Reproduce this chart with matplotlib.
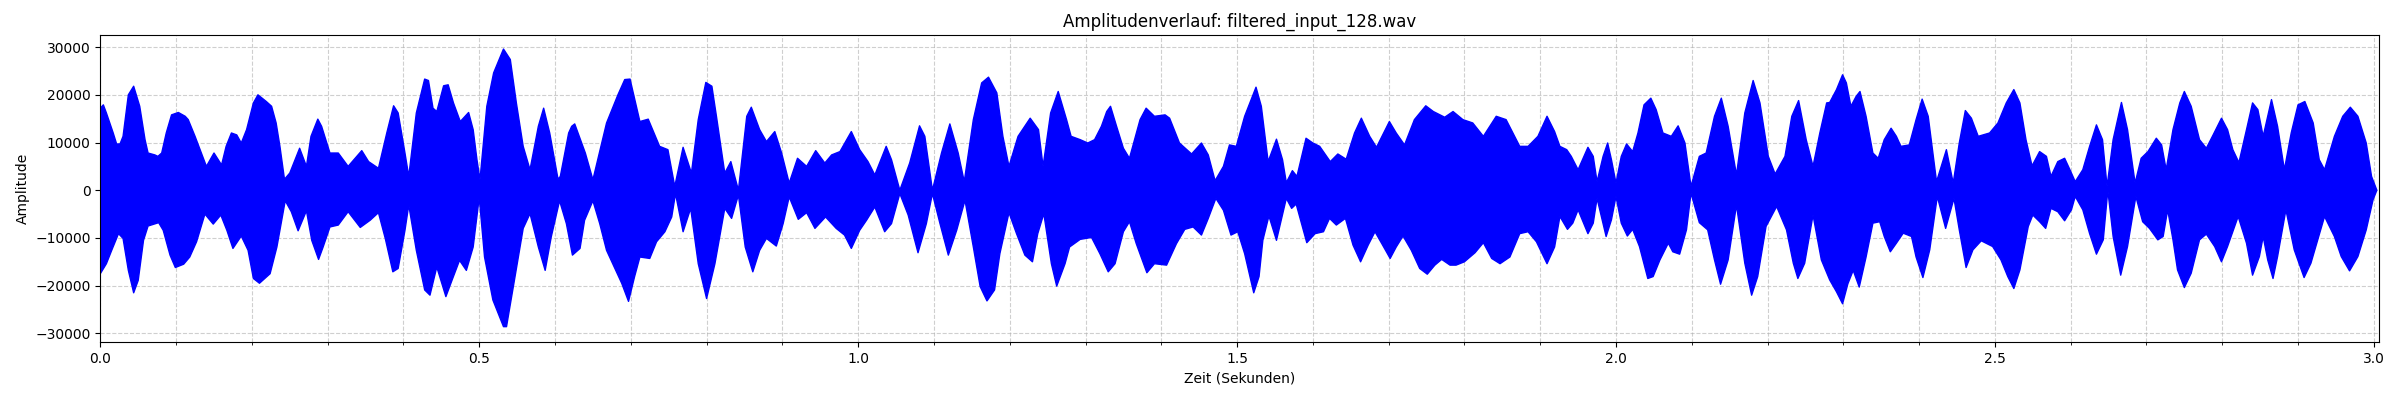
import matplotlib
matplotlib.use("Agg")
import matplotlib.pyplot as plt
from matplotlib.ticker import MultipleLocator
import numpy as np

dateiname = "filtered_input_128.wav"
dauer = 3.007

# obere Huellkurve (Zeit in s, Amplitude)
t_oben = [0.0, 0.004, 0.008, 0.017, 0.0215, 0.026, 0.030, 0.037, 0.044, 0.052, 0.059, 0.063, 0.072, 0.076, 0.081, 0.087, 0.094, 0.103, 0.112, 0.116, 0.125, 0.140, 0.150, 0.160, 0.166, 0.173, 0.180, 0.186, 0.193, 0.202, 0.208, 0.219, 0.226, 0.232, 0.237, 0.243, 0.250, 0.263, 0.272, 0.278, 0.287,
          0.292, 0.303, 0.314, 0.327, 0.345, 0.354, 0.367, 0.378, 0.387, 0.393, 0.402, 0.407, 0.417, 0.428, 0.433, 0.439, 0.444, 0.453, 0.459, 0.466, 0.475, 0.486, 0.492, 0.497, 0.501, 0.510, 0.519, 0.532, 0.541, 0.549, 0.558, 0.567, 0.578, 0.585, 0.593, 0.604,
          0.607, 0.618, 0.622, 0.626, 0.640, 0.650, 0.668, 0.683, 0.692, 0.699, 0.712, 0.723, 0.738, 0.749, 0.758, 0.769, 0.780, 0.789, 0.799, 0.807, 0.813, 0.824, 0.832, 0.842, 0.853, 0.859, 0.870, 0.879, 0.890, 0.899, 0.909, 0.920, 0.932,
          0.944, 0.956, 0.965, 0.976, 0.991, 1.002, 1.013, 1.022, 1.037, 1.044, 1.055, 1.068, 1.081, 1.088, 1.098, 1.110, 1.121, 1.132, 1.140, 1.152, 1.163, 1.172, 1.183, 1.191, 1.199, 1.211, 1.227, 1.238, 1.244, 1.254, 1.264,
          1.275, 1.281, 1.293, 1.303, 1.312, 1.321, 1.328, 1.333, 1.341, 1.350, 1.358, 1.372, 1.380, 1.391, 1.405, 1.411, 1.424, 1.440, 1.453, 1.462, 1.471, 1.482, 1.490, 1.499, 1.510, 1.525, 1.532, 1.541, 1.552, 1.560, 1.565, 1.573, 1.579, 1.591, 1.600, 1.609,
          1.623, 1.633, 1.644, 1.655, 1.664, 1.675, 1.684, 1.701, 1.710, 1.721, 1.734, 1.749, 1.759, 1.774, 1.785, 1.798, 1.811, 1.825, 1.842, 1.855, 1.873, 1.884, 1.897, 1.909, 1.919, 1.926,
          1.935, 1.941, 1.950, 1.963, 1.970, 1.975, 1.983, 1.989, 1.994, 2.000, 2.007, 2.014, 2.022, 2.029, 2.037, 2.046, 2.053, 2.062, 2.073, 2.082, 2.091, 2.099, 2.110, 2.119, 2.130, 2.139, 2.148, 2.159, 2.170, 2.181, 2.190, 2.201, 2.210, 2.223, 2.232, 2.241, 2.251, 2.260, 2.269, 2.278,
          2.282, 2.291, 2.299, 2.304, 2.310, 2.317, 2.322, 2.330, 2.339, 2.346, 2.354, 2.363, 2.370, 2.376, 2.387, 2.396, 2.404, 2.412, 2.423, 2.436, 2.445, 2.453, 2.461, 2.469, 2.478, 2.493, 2.504, 2.515, 2.525, 2.533, 2.541, 2.549, 2.559, 2.568, 2.574, 2.583, 2.592, 2.599, 2.606, 2.616, 2.625, 2.634, 2.642, 2.648,
          2.656, 2.667, 2.675, 2.685, 2.693, 2.702, 2.713, 2.720, 2.726, 2.735, 2.744, 2.750, 2.759, 2.770, 2.779, 2.788, 2.799, 2.807, 2.814, 2.822, 2.832, 2.840, 2.847, 2.854, 2.859, 2.865, 2.873, 2.882, 2.891, 2.900, 2.909, 2.920, 2.928, 2.935, 2.948, 2.959, 2.969, 2.979, 2.990, 2.997, 3.004]
a_oben = [17200, 17900, 16200, 12000, 9700, 9700, 11300, 20000, 21800, 17600, 10600, 7800, 7400, 7100, 7800, 12000, 15800, 16300, 15500, 14800, 11300, 5000, 7800, 5300, 9200, 12000, 11600, 9900, 12700, 18300, 20000, 18600, 17600, 14100, 9200, 2300, 3600, 8800, 5000, 11300, 14900,
          13400, 7800, 7800, 5000, 8300, 6000, 4600, 12000, 17700, 16200, 7800, 2900, 16200, 23300, 23000, 17200, 16500, 21900, 22100, 18300, 14400, 16300, 12700, 6400, 2200, 17600, 24600, 29600, 27400, 18300, 9200, 4300, 13400, 17200, 12000, 2300,
          2900, 12000, 13400, 13900, 7800, 2200, 14100, 20000, 23200, 23300, 14400, 14900, 9200, 8500, 800, 9000, 3600, 14800, 22600, 21800, 15500, 3600, 6000, 0, 15500, 17400, 12700, 10200, 12300, 7800, 1500, 6700, 5000,
          8300, 5700, 7400, 8100, 12300, 8500, 6000, 3200, 9200, 6400, 0, 5700, 13500, 11300, 0, 7800, 13900, 7800, 1800, 14800, 22500, 23700, 20400, 11300, 5000, 11300, 15100, 12700, 5000, 16200, 20700,
          14800, 11300, 10600, 9900, 10600, 13400, 16500, 17600, 13400, 8800, 6700, 14800, 17200, 15500, 15800, 15100, 9900, 7600, 9900, 7400, 2000, 5000, 9500, 9200, 15500, 21600, 17600, 6000, 10700, 6400, 1600, 4100, 2900, 10900, 9900, 9200,
          6000, 7600, 6500, 12000, 15100, 11300, 9000, 14400, 12000, 9500, 14800, 17700, 16500, 15300, 16500, 14800, 14100, 11300, 15500, 14800, 9200, 9200, 11300, 15500, 12300, 9200,
          8500, 7100, 4300, 9000, 7100, 1800, 7100, 9900, 6400, 1500, 7100, 9700, 8100, 12000, 17900, 19300, 16900, 12000, 11300, 13500, 9900, 800, 7100, 7800, 15500, 19300, 13400, 3200, 16200, 23000, 18300, 7100, 3400, 7100, 15500, 18800, 10600, 5000, 12000, 18300,
          18400, 21100, 24200, 22500, 17600, 19700, 20700, 15500, 7800, 6700, 10600, 13000, 11300, 9200, 9500, 14800, 19100, 15500, 1800, 8500, 1500, 9900, 16700, 15100, 11300, 12000, 14100, 18300, 21100, 18300, 10600, 5100, 8100, 7100, 2900, 6000, 6700, 4300, 1800, 4300, 9200, 13700, 10600, 800,
          10600, 18400, 12700, 1500, 6700, 8100, 10900, 9500, 4300, 12700, 18300, 20700, 17600, 10600, 8800, 11600, 15100, 12700, 8500, 5800, 12700, 18300, 16900, 11300, 14800, 19000, 13400, 4300, 12000, 17900, 18600, 14100, 6400, 4300, 11300, 15500, 17400, 15500, 9900, 2900, 0]

# untere Huellkurve
t_unten = [0.0, 0.008, 0.015, 0.024, 0.030, 0.037, 0.044, 0.050, 0.057, 0.063, 0.077, 0.083, 0.092, 0.099, 0.110, 0.118, 0.127, 0.138, 0.149, 0.159, 0.167, 0.175, 0.186, 0.195, 0.202, 0.210, 0.224, 0.233, 0.244, 0.252, 0.261, 0.272, 0.279, 0.288, 0.294, 0.303, 0.314, 0.327, 0.343, 0.356, 0.367, 0.376, 0.386, 0.393, 0.402, 0.407, 0.417, 0.428, 0.435, 0.444, 0.456, 0.464, 0.474, 0.483, 0.492, 0.500, 0.507, 0.518, 0.532, 0.536, 0.545, 0.558, 0.567, 0.578, 0.587, 0.595, 0.606, 0.615, 0.623, 0.633,
           0.639, 0.650, 0.659, 0.668, 0.679, 0.688, 0.697, 0.705, 0.712, 0.725, 0.734, 0.745, 0.754, 0.759, 0.769, 0.779, 0.789, 0.800, 0.811, 0.824, 0.833, 0.842, 0.851, 0.861, 0.870, 0.879, 0.892, 0.901, 0.909, 0.921, 0.932, 0.943, 0.957, 0.971, 0.982, 0.991, 1.002, 1.011, 1.022, 1.035, 1.044, 1.055, 1.066, 1.079, 1.090, 1.098, 1.108, 1.119, 1.130, 1.141, 1.152, 1.161, 1.170, 1.180, 1.187, 1.199, 1.209, 1.220, 1.230, 1.237, 1.245, 1.255, 1.262, 1.273,
           1.279, 1.293, 1.308, 1.319, 1.330, 1.339, 1.350, 1.358, 1.367, 1.381, 1.391, 1.407, 1.420, 1.431, 1.442, 1.453, 1.462, 1.472, 1.482, 1.492, 1.501, 1.510, 1.522, 1.529, 1.534, 1.542, 1.552, 1.565, 1.572, 1.578, 1.592, 1.603, 1.614, 1.622, 1.631, 1.643, 1.653, 1.663, 1.673, 1.682, 1.691, 1.702, 1.710, 1.719, 1.730, 1.741, 1.751, 1.761, 1.770, 1.781, 1.789, 1.800, 1.814, 1.825, 1.836, 1.847, 1.860, 1.873, 1.884, 1.895, 1.909, 1.919,
           1.926, 1.936, 1.943, 1.950, 1.963, 1.970, 1.975, 1.987, 1.994, 2.000, 2.007, 2.015, 2.022, 2.031, 2.042, 2.049, 2.058, 2.069, 2.075, 2.084, 2.093, 2.099, 2.110, 2.121, 2.130, 2.138, 2.148, 2.159, 2.170, 2.179, 2.187, 2.198, 2.212, 2.225, 2.234, 2.240, 2.249, 2.260, 2.271, 2.282,
           2.291, 2.299, 2.306, 2.313, 2.321, 2.330, 2.339, 2.348, 2.354, 2.362, 2.370, 2.379, 2.390, 2.396, 2.405, 2.414, 2.424, 2.435, 2.446, 2.453, 2.462, 2.471, 2.482, 2.497, 2.508, 2.517, 2.525, 2.533, 2.544, 2.550, 2.559, 2.567, 2.574, 2.583, 2.592, 2.601, 2.606, 2.616, 2.625, 2.634, 2.643, 2.649,
           2.656, 2.666, 2.675, 2.686, 2.695, 2.704, 2.715, 2.722, 2.728, 2.735, 2.741, 2.750, 2.759, 2.770, 2.779, 2.790, 2.799, 2.807, 2.821, 2.832, 2.840, 2.849, 2.854, 2.860, 2.867, 2.873, 2.884, 2.895, 2.908, 2.917, 2.935, 2.948, 2.957, 2.968, 2.979, 2.990, 2.999, 3.004]
a_unten = [-17500, -15400, -12600, -9100, -10100, -16800, -21500, -18900, -10500, -7500, -6800, -8400, -13600, -16200, -15500, -14000, -10800, -5000, -7100, -5200, -8400, -12200, -9600, -12600, -18500, -19500, -17500, -11900, -2200, -4500, -8500, -4300, -10500, -14500, -11900, -7700, -7300, -4500, -7800, -6300, -4700, -10100, -17100, -16400, -8400, -3100, -12600, -20900, -22000, -16100, -22300, -18900, -14700, -16800, -11900, -1500, -14000, -23000, -28600, -28600, -20200, -8000, -4900, -11900, -16800, -9800, -2200, -7000, -13600, -12200,
           -6300, -2200, -7000, -12600, -16400, -19500, -23300, -18100, -14000, -14300, -10800, -8700, -5600, -700, -8700, -3800, -15400, -22700, -15400, -3800, -5900, -1000, -11900, -17100, -12600, -10100, -11700, -7000, -1400, -6100, -4700, -8000, -5600, -8000, -9400, -12200, -8400, -6300, -3500, -8700, -7000, -700, -5200, -13100, -7000, -700, -7000, -13600, -8400, -2100, -11900, -20200, -23200, -20900, -13300, -4700, -9100, -13600, -15000, -9100, -4900, -15400, -20100, -15400,
           -11900, -10300, -9900, -13300, -17100, -15400, -8700, -6600, -11200, -17300, -15400, -15700, -11200, -8200, -7700, -9400, -5900, -1700, -4200, -9400, -8700, -13300, -21500, -18100, -10500, -5400, -10500, -1700, -3800, -2900, -11000, -9100, -8700, -5900, -7300, -5900, -11500, -15000, -11500, -8700, -11200, -14300, -11900, -9600, -12600, -16400, -17600, -15700, -14500, -15700, -15700, -15000, -13100, -11000, -14300, -15400, -14000, -9100, -8700, -10800, -15400, -11900,
           -5500, -8200, -6900, -4100, -9100, -6900, -1700, -9700, -6200, -1300, -6900, -9600, -8200, -11800, -18500, -18100, -14600, -11100, -12900, -13400, -8300, -600, -6800, -8300, -14600, -19700, -14600, -3100, -15300, -22000, -18100, -7600, -3400, -8300, -15300, -18500, -15300, -5200, -14600, -18800,
           -21300, -23800, -19600, -16800, -20300, -14000, -6900, -6600, -9700, -12900, -11100, -9000, -9700, -14000, -18300, -12500, -1300, -8000, -1700, -8300, -16200, -12500, -10600, -11800, -14600, -18100, -20600, -16700, -7600, -5200, -6600, -8000, -3800, -4500, -6400, -4100, -1300, -4100, -9100, -13400, -10400, 0,
           -9700, -17800, -11800, -1300, -6600, -8000, -10400, -9700, -4100, -10400, -16700, -20400, -17400, -10400, -9200, -11800, -15000, -11800, -5500, -11100, -17800, -13900, -9700, -14600, -18500, -13900, -4100, -12500, -18300, -15300, -5500, -9700, -13900, -16900, -13900, -8300, -2000, 0]

fig = plt.figure(figsize=(24, 4), dpi=100)
ax = fig.add_subplot(111)

# Signal als Flaeche zwischen oberer und unterer Huellkurve (ueber dem Gitter)
x_poly = np.concatenate([t_oben, t_unten[::-1]])
y_poly = np.concatenate([a_oben, a_unten[::-1]])
ax.fill(x_poly, y_poly, color="blue", linewidth=1.0, joinstyle="round", zorder=2)

ax.set_title("Amplitudenverlauf: " + dateiname)
ax.set_xlabel("Zeit (Sekunden)")
ax.set_ylabel("Amplitude")
ax.set_xlim(0, dauer)
ax.set_ylim(-31900, 32500)
ax.xaxis.set_major_locator(MultipleLocator(0.5))
ax.xaxis.set_minor_locator(MultipleLocator(0.1))
ax.grid(True, which="both", linestyle="--", alpha=0.6)

plt.subplots_adjust(left=0.0418, right=0.9913, top=0.912, bottom=0.144)
plt.savefig("out.png")
